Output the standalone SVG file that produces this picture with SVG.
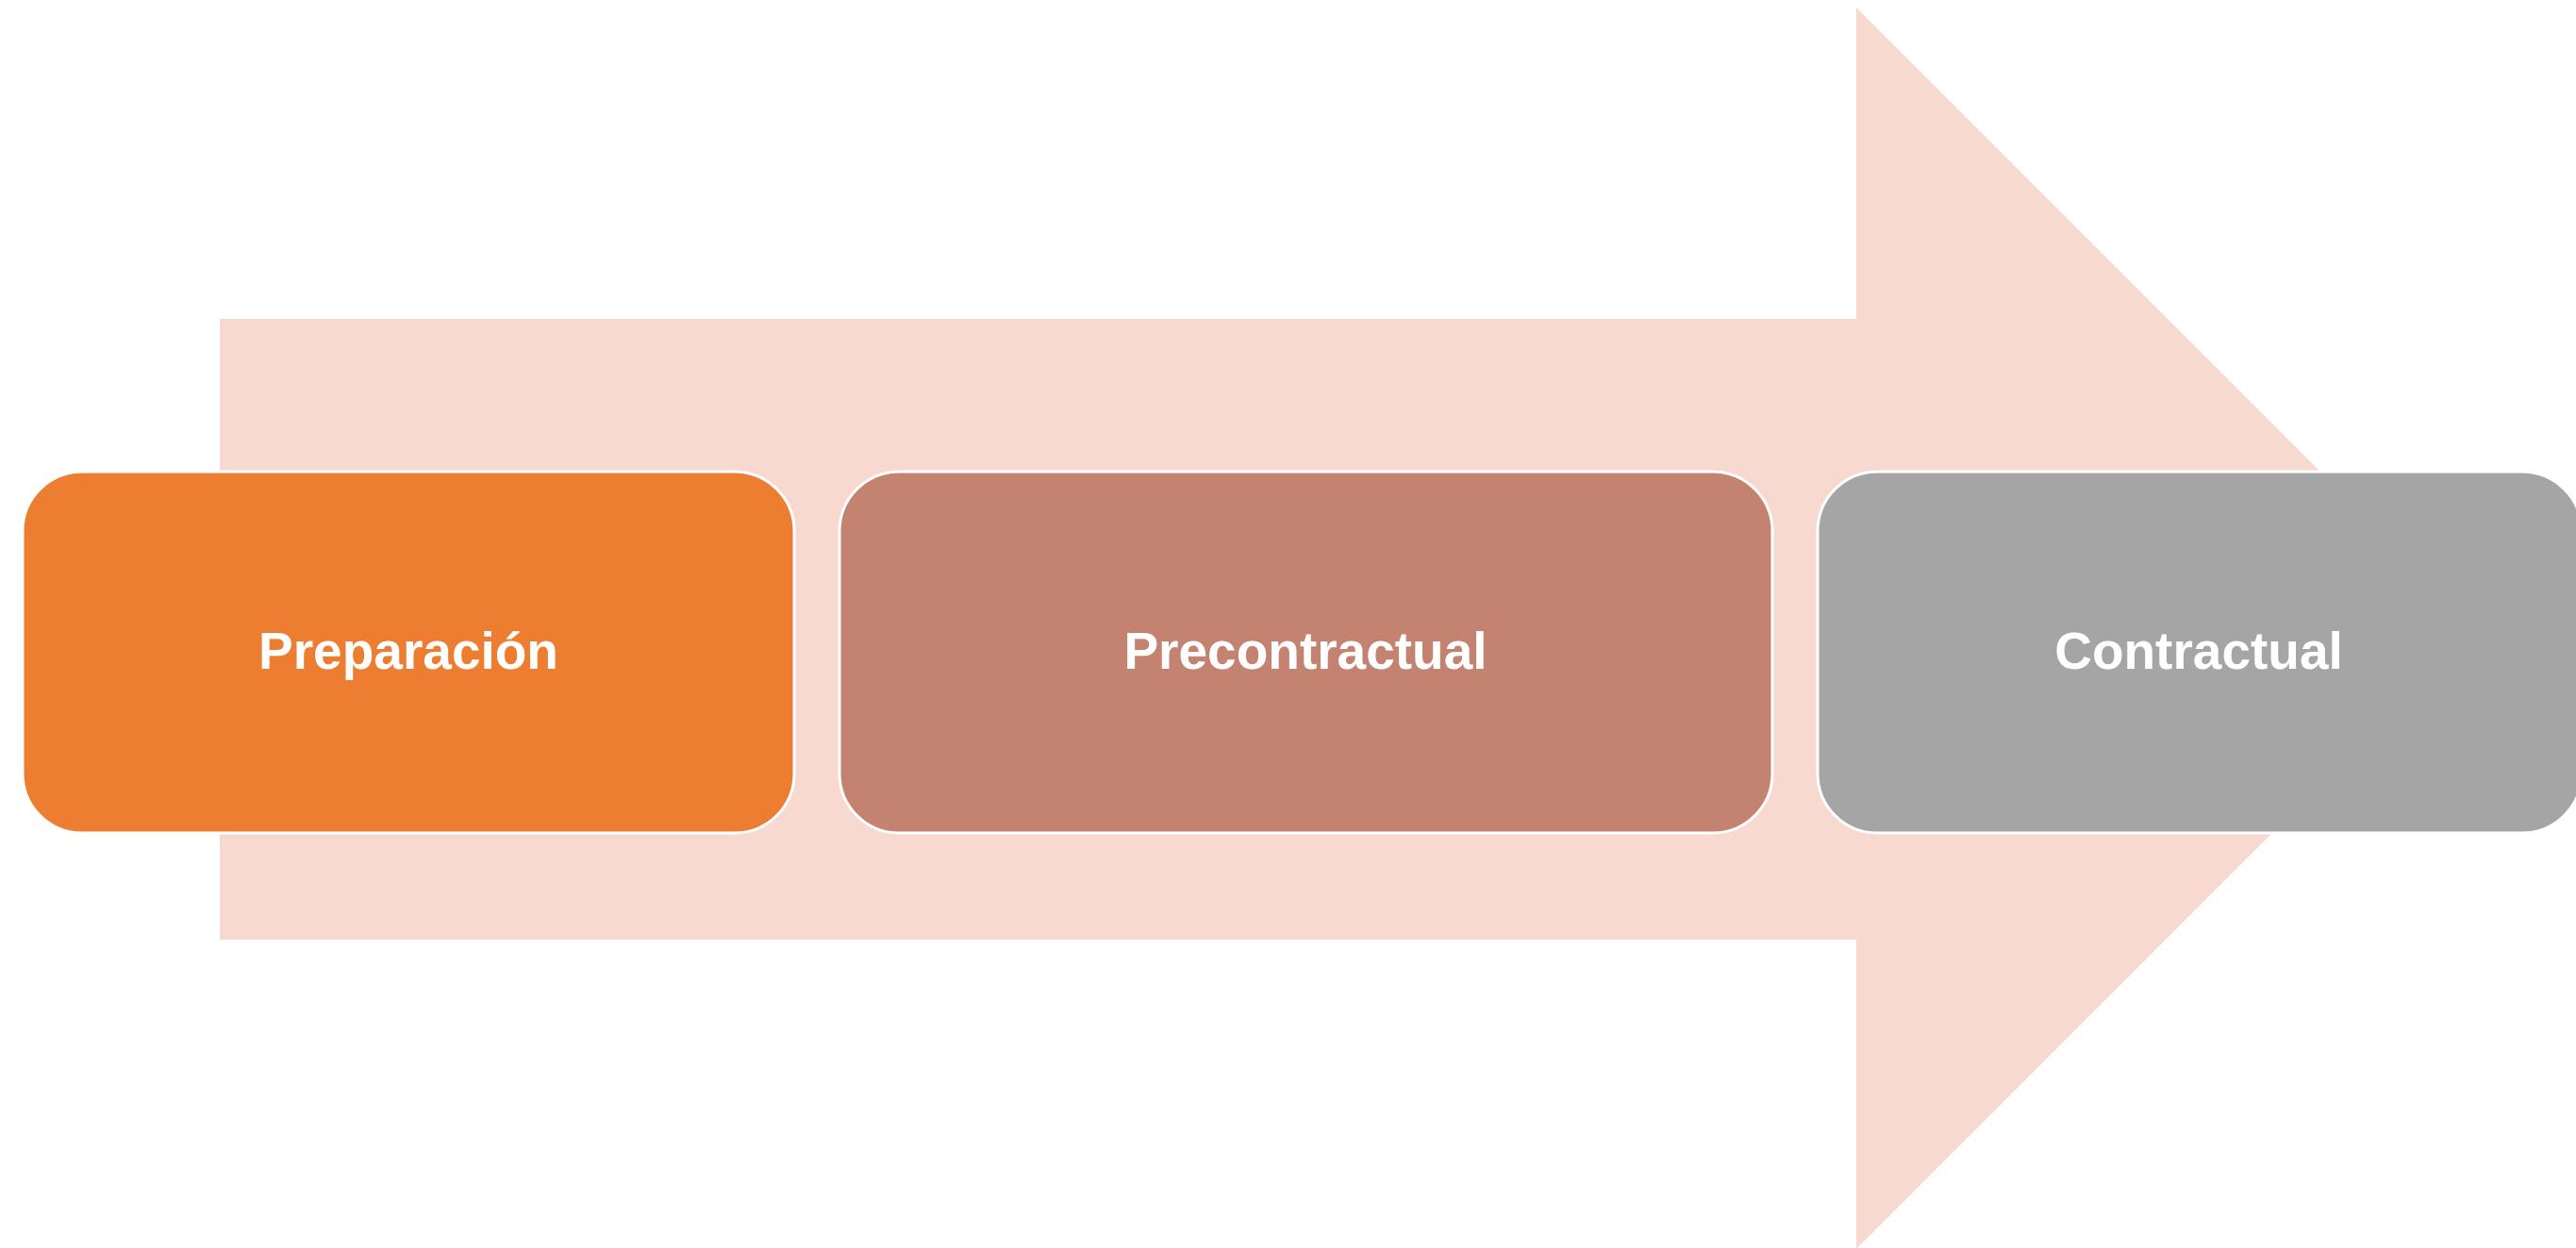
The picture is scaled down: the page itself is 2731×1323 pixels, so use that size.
<svg xmlns="http://www.w3.org/2000/svg" width="2731" height="1323" viewBox="0 0 2731 1323">
<style>
.box{stroke:#FFFFFF;stroke-width:3}
.lbl{font-family:"Liberation Sans",Arial,sans-serif;font-weight:bold;font-size:55px;fill:#FFFFFF;text-anchor:middle}
</style>
<rect width="2731" height="1323" fill="#FFFFFF"/>
<g id="arrow">
<polygon points="233,338 1968,338 1968,8 2626,666 1968,1324 1968,996 233,996" fill="#F7D9CF"/>
</g>
<g id="connectors"></g>
<g id="node-preparacion">
<rect class="box" x="24" y="500" width="818" height="383" rx="63" ry="63" fill="#ED7D31"/>
<text class="lbl" x="433" y="709">Preparación</text>
</g>
<g id="node-precontractual">
<rect class="box" x="890" y="500" width="989" height="383" rx="63" ry="63" fill="#C48270"/>
<text class="lbl" x="1384" y="709">Precontractual</text>
</g>
<g id="node-contractual">
<rect class="box" x="1927" y="500" width="810" height="383" rx="63" ry="63" fill="#A5A5A5"/>
<text class="lbl" x="2331" y="709">Contractual</text>
</g>
</svg>
